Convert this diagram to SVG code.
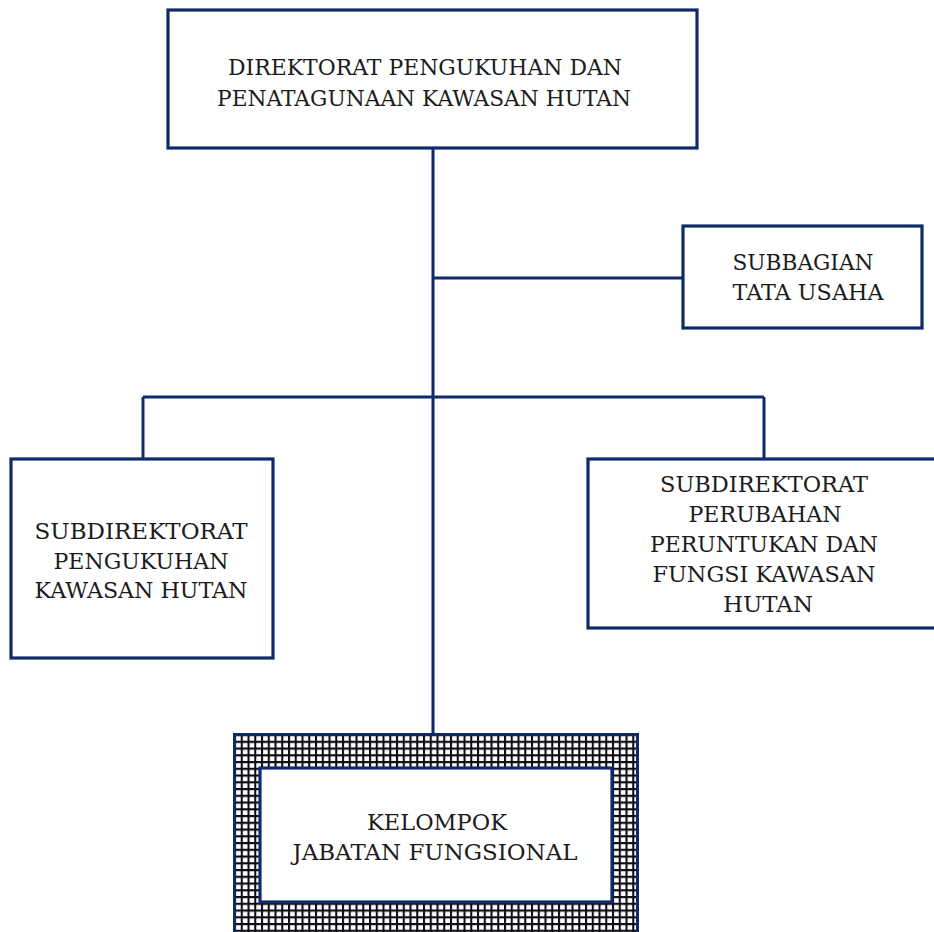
<svg xmlns="http://www.w3.org/2000/svg" width="934" height="932" viewBox="0 0 934 932">
  <style>
    .box { fill: #ffffff; stroke: #0f2a6b; stroke-width: 3.2; }
    .link { fill: none; stroke: #0f2a6b; stroke-width: 3; }
    .label { font-family: "DejaVu Serif", "Liberation Serif", serif; font-size: 23px; fill: #1c1c1c; text-anchor: middle; }
  </style>
  <defs>
    <pattern id="grid" x="234" y="734" width="6.75" height="6.75" patternUnits="userSpaceOnUse">
      <rect width="6.75" height="6.75" fill="#ffffff"/>
      <path d="M1 0 V6.75 M0 1 H6.75" stroke="#0c0c14" stroke-width="2.1"/>
    </pattern>
  </defs>
  <rect width="934" height="932" fill="#ffffff"/>

  <g id="connectors">
    <path class="link" d="M433 148 V733"/>
    <path class="link" d="M433 278 H683"/>
    <path class="link" d="M143 397 H764"/>
    <path class="link" d="M143 397 V459"/>
    <path class="link" d="M764 397 V459"/>
  </g>

  <g id="direktorat">
    <rect class="box" x="168" y="10" width="529" height="138"/>
    <text class="label" x="425" y="75" textLength="394" lengthAdjust="spacingAndGlyphs">DIREKTORAT PENGUKUHAN DAN</text>
    <text class="label" x="424" y="106" textLength="414" lengthAdjust="spacingAndGlyphs">PENATAGUNAAN KAWASAN HUTAN</text>
  </g>

  <g id="subbagian">
    <rect class="box" x="683" y="226" width="239" height="102"/>
    <text class="label" x="803" y="270" textLength="141" lengthAdjust="spacingAndGlyphs">SUBBAGIAN</text>
    <text class="label" x="808" y="300" textLength="151" lengthAdjust="spacingAndGlyphs">TATA USAHA</text>
  </g>

  <g id="subdit-pengukuhan">
    <rect class="box" x="11" y="459" width="262" height="199"/>
    <text class="label" x="141" y="539" textLength="213" lengthAdjust="spacingAndGlyphs">SUBDIREKTORAT</text>
    <text class="label" x="141" y="569" textLength="175" lengthAdjust="spacingAndGlyphs">PENGUKUHAN</text>
    <text class="label" x="141" y="598" textLength="213" lengthAdjust="spacingAndGlyphs">KAWASAN HUTAN</text>
  </g>

  <g id="subdit-perubahan">
    <rect class="box" x="588" y="459" width="352" height="169"/>
    <text class="label" x="764" y="492" textLength="208" lengthAdjust="spacingAndGlyphs">SUBDIREKTORAT</text>
    <text class="label" x="765" y="522" textLength="153" lengthAdjust="spacingAndGlyphs">PERUBAHAN</text>
    <text class="label" x="764" y="552" textLength="228" lengthAdjust="spacingAndGlyphs">PERUNTUKAN DAN</text>
    <text class="label" x="764" y="582" textLength="223" lengthAdjust="spacingAndGlyphs">FUNGSI KAWASAN</text>
    <text class="label" x="768" y="612" textLength="90" lengthAdjust="spacingAndGlyphs">HUTAN</text>
  </g>

  <g id="kelompok-jabfung">
    <rect x="234.5" y="734.5" width="403" height="205" fill="url(#grid)" stroke="#0f2a6b" stroke-width="3"/>
    <rect class="box" x="260" y="768" width="352" height="134"/>
    <text class="label" x="437" y="830" textLength="140" lengthAdjust="spacingAndGlyphs">KELOMPOK</text>
    <text class="label" x="435" y="860" textLength="285" lengthAdjust="spacingAndGlyphs">JABATAN FUNGSIONAL</text>
  </g>
</svg>
